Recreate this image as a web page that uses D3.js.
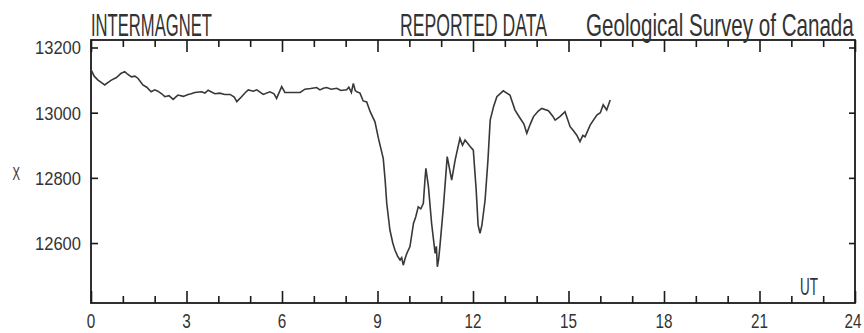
<!DOCTYPE html>
<html>
<head>
<meta charset="utf-8">
<script src="https://cdn.jsdelivr.net/npm/d3@7"></script>
<style>
    body { margin: 0; background: #fff; }
    text { font-family: "Liberation Sans Narrow", "Liberation Sans", Arial, sans-serif; fill: #333; }
</style>
</head>
<body>
<div id="magChart"></div>
<script>
// UT hours of the traced points
var hours = [
    0.00, 0.10, 0.22, 0.33, 0.43, 0.55, 0.64, 0.80, 0.95, 1.06,
    1.15, 1.27, 1.38, 1.48, 1.63, 1.75, 1.89, 2.00, 2.10, 2.22,
    2.32, 2.45, 2.58, 2.73, 2.90, 3.05, 3.15, 3.26, 3.47, 3.58,
    3.68, 3.89, 4.05, 4.20, 4.37, 4.50, 4.58, 4.73, 4.85, 4.94,
    5.10, 5.21, 5.41, 5.62, 5.75, 5.83, 5.99, 6.09, 6.30, 6.57,
    6.72, 6.90, 7.09, 7.19, 7.30, 7.40, 7.55, 7.72, 7.85, 8.03,
    8.10, 8.18, 8.24, 8.30, 8.35, 8.45, 8.55, 8.66, 8.77, 8.92,
    9.03, 9.18, 9.24, 9.29, 9.39, 9.48, 9.55, 9.63, 9.71, 9.76,
    9.81, 9.86, 9.92, 10.02, 10.13, 10.20, 10.28, 10.36, 10.44, 10.49,
    10.52, 10.60, 10.70, 10.81, 10.85, 10.88, 10.92, 10.96, 11.07, 11.19,
    11.33, 11.44, 11.59, 11.67, 11.75, 11.91, 12.01, 12.10, 12.16, 12.22,
    12.28, 12.38, 12.47, 12.54, 12.65, 12.75, 12.95, 13.16, 13.32, 13.48,
    13.60, 13.69, 13.80, 13.90, 14.05, 14.16, 14.37, 14.50, 14.58, 14.73,
    14.89, 15.05, 15.15, 15.26, 15.36, 15.45, 15.52, 15.68, 15.89, 16.00,
    16.09, 16.20, 16.31
];

// X component (nT)
var xValues = [
    13132, 13112, 13100, 13092, 13085, 13094, 13100, 13108, 13121, 13126,
    13118, 13110, 13112, 13105, 13085, 13078, 13064, 13070, 13066, 13058,
    13049, 13052, 13041, 13054, 13050, 13056, 13058, 13062, 13064, 13060,
    13069, 13058, 13060, 13056, 13056, 13048, 13034, 13049, 13062, 13070,
    13066, 13070, 13056, 13064, 13058, 13044, 13080, 13062, 13062, 13062,
    13072, 13074, 13077, 13070, 13075, 13077, 13072, 13075, 13068, 13070,
    13078, 13062, 13090, 13068, 13064, 13060, 13036, 13033, 13003, 12972,
    12921, 12860, 12793, 12722, 12640, 12600, 12578, 12560, 12548, 12555,
    12532, 12550, 12568, 12589, 12660, 12680, 12711, 12705, 12722, 12793,
    12829, 12773, 12660, 12568, 12590, 12527, 12550, 12589, 12711, 12865,
    12793, 12855, 12921, 12900, 12916, 12896, 12885, 12763, 12655, 12630,
    12655, 12732, 12855, 12977, 13020, 13049, 13067, 13054, 13008, 12983,
    12965, 12937, 12965, 12988, 13005, 13013, 13006, 12990, 12977, 12988,
    13003, 12957, 12945, 12931, 12911, 12930, 12926, 12962, 12993, 13000,
    13024, 13008, 13039
];

var xTickLabels = ["0", "3", "6", "9", "12", "15", "18", "21", "24"];
var yTickLabels = ["13200", "13000", "12800", "12600"];
var titles = ["INTERMAGNET", "REPORTED DATA", "Geological Survey of Canada"];

var width = 864,
    height = 333;
var plot = { left: 91, right: 855, top: 40, bottom: 303 };

var svg = d3.select("#magChart")
    .append("svg")
    .attr("width", width)
    .attr("height", height);

// squeeze a text horizontally to a given width (the font is narrower than anything installed)
function squeeze(sel, w) {
    sel.each(function (d, i) {
        var node = this;
        var tw = typeof w == "function" ? w(d, i) : w;
        var n = node.getComputedTextLength();
        var tx = +node.getAttribute("x"), ty = +node.getAttribute("y");
        node.setAttribute("x", 0);
        node.setAttribute("y", 0);
        node.setAttribute("transform", "translate(" + tx + "," + ty + ") scale(" + (tw / n) + ",1)");
    });
}

// scales
var x = d3.scaleLinear().domain([0, 24]).range([plot.left, plot.right]);
var y = d3.scaleLinear().domain([12416, 13223]).range([plot.bottom, plot.top]);

var hourTicks = d3.range(0, 25);
var yTicks = yTickLabels.map(Number);

function tickLen(d) { return d % 3 == 0 ? 12 : 7; }

// bottom axis, ticks point up
var bottom = svg.append("g")
    .attr("transform", "translate(0," + plot.bottom + ")")
    .call(d3.axisBottom(x).tickValues(hourTicks).tickFormat("").tickSizeOuter(0));
bottom.selectAll(".tick line").attr("y2", function (d) { return -tickLen(d) });

// top axis, ticks point down
var top_ = svg.append("g")
    .attr("transform", "translate(0," + plot.top + ")")
    .call(d3.axisTop(x).tickValues(hourTicks).tickFormat("").tickSizeOuter(0));
top_.selectAll(".tick line").attr("y2", function (d) { return tickLen(d) });

// left and right axes, ticks point inwards
svg.append("g")
    .attr("transform", "translate(" + plot.left + ",0)")
    .call(d3.axisLeft(y).tickValues(yTicks).tickFormat("").tickSize(-7).tickSizeOuter(0));
svg.append("g")
    .attr("transform", "translate(" + plot.right + ",0)")
    .call(d3.axisRight(y).tickValues(yTicks).tickFormat("").tickSize(-6).tickSizeOuter(0));

svg.selectAll(".tick line")
    .attr("stroke", "#1a1a1a")
    .attr("stroke-width", 1.6);
svg.selectAll(".domain").remove();

// frame
svg.append("rect")
    .attr("x", x(0))
    .attr("y", y.range()[1])
    .attr("width", x(24) - x(0))
    .attr("height", y.range()[0] - y.range()[1])
    .attr("fill", "none")
    .attr("stroke", "#1a1a1a")
    .attr("stroke-width", 1.8);

// tick labels
svg.selectAll("xLabels")
    .data(xTickLabels)
    .enter()
    .append("text")
    .attr("x", function (d) { return Math.min(x(+d), 853) })
    .attr("y", 328)
    .attr("text-anchor", "middle")
    .style("font-size", "20px")
    .text(function (d) { return d })
    .call(squeeze, function (d) { return d.length * 8.5 });

svg.selectAll("yLabels")
    .data(yTickLabels)
    .enter()
    .append("text")
    .attr("x", 35)
    .attr("y", function (d) { return y(+d) + 7 })
    .style("font-size", "18px")
    .text(function (d) { return d })
    .call(squeeze, 46);

// axis names
svg.append("text")
    .attr("x", 12.5).attr("y", 180)
    .style("font-size", "18px")
    .text("X")
    .call(squeeze, 7.5);
svg.append("text")
    .attr("x", 800).attr("y", 295)
    .style("font-size", "24px")
    .text("UT")
    .call(squeeze, 18);

// header
var titlePos = [[91, 121], [400, 147], [586, 268]];
svg.selectAll("titles")
    .data(titles)
    .enter()
    .append("text")
    .attr("x", function (d, i) { return titlePos[i][0] })
    .attr("y", 36)
    .style("font-size", "31px")
    .text(function (d) { return d })
    .call(squeeze, function (d, i) { return titlePos[i][1] });

// the trace
var line = d3.line()
    .x(function (d) { return x(d[0]) })
    .y(function (d) { return y(d[1]) });

svg.append("path")
    .datum(d3.zip(hours, xValues))
    .attr("d", line)
    .attr("fill", "none")
    .attr("stroke", "#383838")
    .attr("stroke-width", 1.6)
    .attr("stroke-linejoin", "miter");
</script>
</body>
</html>
